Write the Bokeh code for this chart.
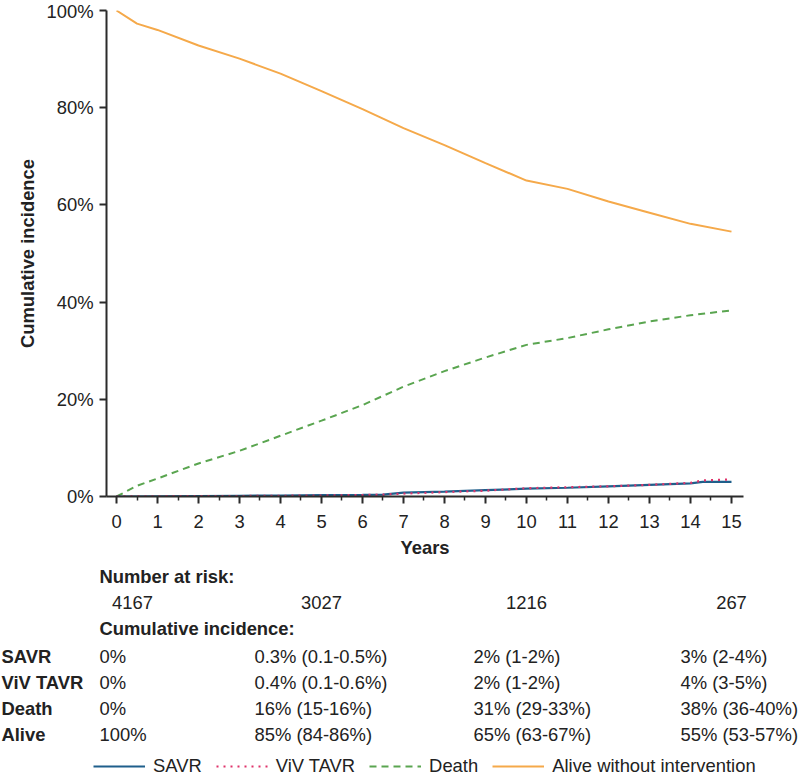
from bokeh.plotting import figure
from bokeh.models import (Range1d, FixedTicker, Legend, LegendItem,
                          ColumnDataSource, CustomJSTickFormatter)
from bokeh.layouts import column, row
from bokeh.embed import file_html
from bokeh.resources import INLINE
from bokeh.core.properties import value

FONT = "Liberation Sans"
FS = "18.4px"

# ---- data (years, cumulative incidence %) ----
alive_t = [0, 0.5, 1, 2, 3, 4, 5, 6, 7, 8, 9, 10, 11, 12, 13, 14, 15]
alive_y = [100, 97.3, 96.0, 92.8, 90.1, 87.0, 83.4, 79.7, 75.8, 72.3, 68.6, 65.0, 63.3, 60.7, 58.4, 56.1, 54.5]

death_t = [0, 0.5, 1, 2, 3, 4, 5, 6, 7, 8, 9, 10, 11, 12, 13, 14, 15]
death_y = [0, 2.2, 3.7, 6.8, 9.4, 12.5, 15.6, 18.8, 22.6, 25.8, 28.6, 31.2, 32.6, 34.4, 36.0, 37.3, 38.3]

savr_t = [0, 1, 2, 3, 4, 5, 6, 6.5, 7, 8, 9, 10, 11, 12, 13, 14, 14.3, 15]
savr_y = [0, 0.05, 0.1, 0.15, 0.2, 0.3, 0.35, 0.4, 0.8, 1.0, 1.3, 1.6, 1.8, 2.1, 2.4, 2.7, 3.0, 3.0]

viv_t = [0, 1, 2, 3, 4, 5, 6, 6.5, 7, 8, 9, 10, 11, 12, 13, 14, 14.3, 15]
viv_y = [0, 0.05, 0.1, 0.1, 0.15, 0.2, 0.3, 0.4, 0.6, 0.9, 1.2, 1.7, 1.9, 2.1, 2.4, 2.8, 3.3, 3.5]

risk_years = [0, 5, 10, 15]
risk_counts = ["4167", "3027", "1216", "267"]

row_labels = ["SAVR", "ViV TAVR", "Death", "Alive"]
col_values = [
    ["0%", "0.3% (0.1-0.5%)", "2% (1-2%)", "3% (2-4%)"],
    ["0%", "0.4% (0.1-0.6%)", "2% (1-2%)", "4% (3-5%)"],
    ["0%", "16% (15-16%)", "31% (29-33%)", "38% (36-40%)"],
    ["100%", "85% (84-86%)", "65% (63-67%)", "55% (53-57%)"],
]

series_names = ["SAVR", "ViV TAVR", "Death", "Alive without intervention"]
colors = ["#1f5f8b", "#e0336a", "#5aa550", "#f5a94a"]
dashes = ["solid", "2 5", "7 5", "solid"]

AX = "#2b2b2b"
TXT = "#222222"

# ---- chart figure ----
p = figure(width=798, height=560, output_backend="svg", toolbar_location=None,
           x_range=Range1d(-0.244, 15.293), y_range=Range1d(0, 100),
           min_border_left=106, min_border_right=55, min_border_top=10, min_border_bottom=62)
p.outline_line_color = None
p.grid.grid_line_color = None
p.background_fill_color = None
p.border_fill_color = None

p.line(alive_t, alive_y, color=colors[3], line_width=2, line_dash=dashes[3])
p.line(death_t, death_y, color=colors[2], line_width=2, line_dash=dashes[2])
p.line(savr_t, savr_y, color=colors[0], line_width=2.2, line_dash=dashes[0])
p.line(viv_t, viv_y, color=colors[1], line_width=2.2, line_dash=dashes[1])

xa = p.xaxis[0]
xa.ticker = FixedTicker(ticks=list(range(0, 16)), minor_ticks=[i + 0.5 for i in range(-1, 16)])
xa.axis_label = "Years"
xa.axis_label_text_font = FONT
xa.axis_label_text_font_style = "bold"
xa.axis_label_text_font_size = FS
xa.axis_label_text_color = TXT
xa.axis_label_standoff = 6
xa.major_label_text_font = FONT
xa.major_label_text_font_size = FS
xa.major_label_text_color = TXT
xa.major_label_standoff = 11
xa.major_tick_out = 7
xa.major_tick_in = 0
xa.minor_tick_out = 4
xa.minor_tick_in = 0
xa.axis_line_width = 2
xa.axis_line_color = AX
xa.major_tick_line_color = AX
xa.major_tick_line_width = 2
xa.minor_tick_line_color = AX
xa.minor_tick_line_width = 1.5

ya = p.yaxis[0]
ya.ticker = FixedTicker(ticks=[0, 20, 40, 60, 80, 100], minor_ticks=[])
ya.formatter = CustomJSTickFormatter(code="return tick.toFixed(0) + '%';")
ya.axis_label = "Cumulative incidence"
ya.axis_label_text_font = FONT
ya.axis_label_text_font_style = "bold"
ya.axis_label_text_font_size = FS
ya.axis_label_text_color = TXT
ya.axis_label_standoff = 5
ya.major_label_text_font = FONT
ya.major_label_text_font_size = FS
ya.major_label_text_color = TXT
ya.major_label_standoff = 6
ya.major_tick_out = 7
ya.major_tick_in = 0
ya.axis_line_width = 2
ya.axis_line_color = AX
ya.major_tick_line_color = AX
ya.major_tick_line_width = 2

# ---- table + legend figure ----
t = figure(width=798, height=218, output_backend="svg", toolbar_location=None,
           x_range=Range1d(-2.829, 16.634), y_range=Range1d(7.681, -0.608),
           x_axis_location=None, y_axis_location=None, min_border=0)
t.grid.grid_line_color = None
t.outline_line_color = None
t.background_fill_color = None
t.border_fill_color = None

left_x = -0.415
label_x = -2.805
col_x = [-0.415, 3.366, 8.707, 13.756]

common = dict(text_font=value(FONT), text_font_size=FS, text_baseline="middle", text_color=TXT)

t.text(x=[left_x, left_x], y=[0, 1.98], text=["Number at risk:", "Cumulative incidence:"],
       text_align="left", text_font_style="bold", **common)

risk_src = ColumnDataSource(dict(x=risk_years, y=[0.99] * len(risk_years), text=risk_counts,
                                 xo=[16, 0, 0, 0]))
t.text(x="x", y="y", text="text", x_offset="xo", source=risk_src, text_align="center", **common)

rows_y = [3.04, 4.03, 5.02, 6.01]
t.text(x=[label_x] * 4, y=rows_y, text=row_labels, text_align="left", text_font_style="bold", **common)

xs, ys, txt = [], [], []
for ri, row_vals in enumerate(col_values):
    for ci, v in enumerate(row_vals):
        xs.append(col_x[ci]); ys.append(rows_y[ri]); txt.append(v)
t.text(x=xs, y=ys, text=txt, text_align="left", **common)

items = []
for name, c, d in zip(series_names, colors, dashes):
    r = t.line(x=[-20, -19], y=[-20, -20], color=c, line_width=2, line_dash=d)
    items.append(LegendItem(label=name, renderers=[r]))
leg = Legend(items=items, orientation="horizontal", location=(93, 1),
             glyph_width=52, glyph_height=20, label_standoff=8, spacing=14,
             padding=0, margin=0, border_line_color=None, background_fill_alpha=0,
             label_text_font=FONT, label_text_font_size=FS, label_text_color=TXT,
             label_height=20)
t.add_layout(leg)

layout = column(column(p), column(t), spacing=0)
open("out.html", "w").write(file_html(layout, INLINE))
